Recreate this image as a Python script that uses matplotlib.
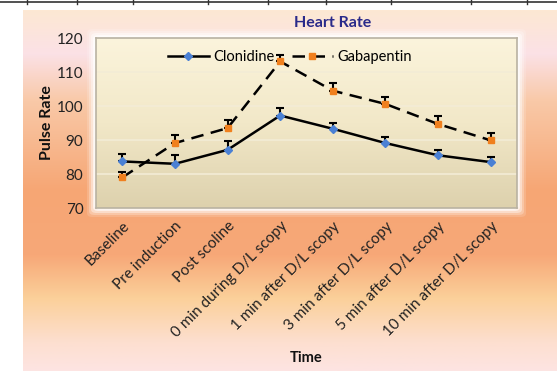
import numpy as np
import matplotlib.pyplot as plt
from matplotlib.colors import LinearSegmentedColormap
from matplotlib.patches import FancyBboxPatch

# values
times = ["Baseline", "Pre induction", "Post scoline", "0 min during D/L scopy",
         "1 min after D/L scopy", "3 min after D/L scopy", "5 min after D/L scopy",
         "10 min after D/L scopy"]
clonidine = [83.7, 83.0, 87.1, 97.2, 93.3, 89.1, 85.5, 83.5]
clonidine_err = [2.3, 2.7, 2.5, 2.2, 1.7, 1.9, 1.6, 1.5]
gabapentin = [79.0, 89.1, 93.5, 113.1, 104.5, 100.6, 94.7, 89.9]
gabapentin_err = [1.6, 2.5, 2.5, 2.0, 2.3, 2.0, 2.4, 2.3]
yticks = [70, 80, 90, 100, 110, 120]

plt.rcParams['font.family'] = ['Lato', 'DejaVu Sans']

W, H = 557, 371
fig = plt.figure(figsize=(W / 100, H / 100), dpi=100)

# table lines at the very top of the picture
fig.add_artist(plt.Line2D([0, 1], [1 - 1.5 / H, 1 - 1.5 / H], color="#333333", lw=1.2))
for xv in [27, 77, 133, 208, 268, 326, 391, 471, 527]:
    fig.add_artist(plt.Line2D([xv / W, xv / W], [1 - 4 / H, 1], color="#333333", lw=1))

# orange/pink gradient behind the chart
bg = fig.add_axes([23 / W, 0, 1 - 23 / W, 1 - 10 / H], zorder=-2)
bg_cmap = LinearSegmentedColormap.from_list("bg", [
    (0.0, "#fde8d3"), (0.12, "#fbe1e6"), (0.25, "#f9c9a8"), (0.5, "#f6a674"),
    (0.68, "#f7a878"), (0.8, "#fbd09a"), (0.92, "#fddfcf"), (1.0, "#fde4e2")])
bg.imshow(np.linspace(0, 1, 256).reshape(-1, 1), cmap=bg_cmap, aspect="auto",
          extent=[0, 1, 0, 1], origin="upper")
bg.axis("off")

# white glow around the plot area
left, right, top, bottom = 96, 517, 38, 208
ax_rect = [left / W, 1 - bottom / H, (right - left) / W, (bottom - top) / H]
for pad, a in [(9, 0.15), (7, 0.25), (5, 0.4), (3, 0.6), (1.5, 0.85)]:
    fig.add_artist(FancyBboxPatch(((left - pad) / W, 1 - (bottom + pad) / H),
                                  (right - left + 2 * pad) / W, (bottom - top + 2 * pad) / H,
                                  boxstyle="round,pad=0,rounding_size=0.01",
                                  transform=fig.transFigure, fc="white", ec="none",
                                  alpha=a, zorder=-1))

ax = fig.add_axes(ax_rect)
x = np.arange(len(times))
ax.set_xlim(-0.5, len(times) - 0.5)
ax.set_ylim(70, 120)

# beige gradient inside the plot area
plot_cmap = LinearSegmentedColormap.from_list("pa", ["#fbf4dc", "#f2e8c8", "#ddd1ad"])
ax.imshow(np.linspace(0, 1, 256).reshape(-1, 1), cmap=plot_cmap, aspect="auto",
          extent=[-0.5, len(times) - 0.5, 70, 120], origin="upper", zorder=0)

for yv in yticks[1:-1]:
    ax.axhline(yv, color="#f3ecd6", lw=1.2, zorder=1)

ax.errorbar(x, clonidine, yerr=[np.zeros(len(x)), clonidine_err], fmt="none",
            ecolor="black", elinewidth=1.5, capsize=3, capthick=1.5, zorder=2)
ax.errorbar(x, gabapentin, yerr=[np.zeros(len(x)), gabapentin_err], fmt="none",
            ecolor="black", elinewidth=1.5, capsize=3, capthick=1.5, zorder=2)
ax.plot(x, clonidine, color="black", lw=1.8, marker="D", markersize=4.5,
        markerfacecolor="#4a80d4", markeredgecolor="#4a80d4", label="Clonidine", zorder=3)
ax.plot(x, gabapentin, color="black", lw=1.8, dashes=(5, 3), marker="s", markersize=5,
        markerfacecolor="#f0801e", markeredgecolor="#f0801e", label="Gabapentin", zorder=3)

ax.set_yticks(yticks)
ax.set_xticks(x)
ax.set_xticklabels(times, rotation=45, ha="right", rotation_mode="anchor")
ax.tick_params(length=0, labelsize=11, colors="#222222")
ax.tick_params(axis="y", pad=9)
ax.tick_params(axis="x", pad=8)
for s in ax.spines.values():
    s.set_color("#b9b2a2")
    s.set_linewidth(1.2)

ax.legend(loc="center", bbox_to_anchor=(0.46, 0.89), ncol=2, frameon=False,
          fontsize=10.5, handlelength=2.8, columnspacing=1.2, handletextpad=0.3)

fig.text(333 / W, 1 - 23 / H, "Heart Rate", color="#2a2a8a", fontsize=11.5,
         fontweight="bold", ha="center", va="center")
fig.text(47 / W, 1 - 123 / H, "Pulse Rate", fontsize=11.5, fontweight="bold",
         rotation=90, ha="center", va="center", color="#111111")
fig.text(306 / W, 1 - 358 / H, "Time", fontsize=10.5, fontweight="bold",
         ha="center", va="center", color="#111111")

fig.savefig("out.png", dpi=100)
